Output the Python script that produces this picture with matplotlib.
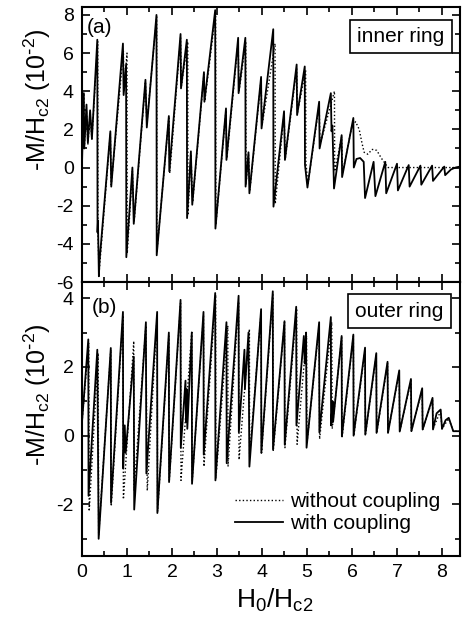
# Magnetization vs applied field for inner and outer rings

import matplotlib.pyplot as plt
from matplotlib.ticker import MultipleLocator

plt.rcParams['font.family'] = ['Liberation Sans', 'DejaVu Sans']
plt.rcParams['mathtext.default'] = 'regular'
plt.rcParams['axes.unicode_minus'] = False

# --- data ---

# (a) inner ring, with coupling (solid)
inner_with_x = [0.00, 0.04, 0.05, 0.10, 0.13, 0.18, 0.22, 0.34, 0.345, 0.355,
                0.375, 0.39, 0.63, 0.65, 0.91, 0.925, 0.98, 0.985, 1.12, 1.15,
                1.41, 1.44, 1.655, 1.66, 1.93, 1.94, 2.19, 2.20, 2.33, 2.335,
                2.42, 2.45, 2.71, 2.72, 2.96, 2.965, 3.20, 3.21, 3.47, 3.48,
                3.63, 3.635, 3.70, 3.72, 3.98, 3.99, 4.25, 4.255, 4.49, 4.51,
                4.77, 4.78, 4.95, 4.955, 5.01, 5.27, 5.28, 5.53, 5.545, 5.565,
                5.60, 5.77, 5.78, 6.03, 6.04, 6.10, 6.18, 6.26, 6.29, 6.48,
                6.52, 6.74, 6.76, 7.00, 7.02, 7.26, 7.28, 7.52, 7.54, 7.78,
                7.80, 8.05, 8.07, 8.20, 8.30, 8.40]
inner_with_y = [0.2, 3.9, 1.0, 3.3, 1.3, 3.0, 1.5, 6.7, -3.4, -2.8,
                -5.7, -4.9, 1.9, -1.0, 6.5, 3.8, 5.4, -4.7, 0.0, -2.95,
                4.6, 2.1, 8.0, -4.6, 2.7, -0.2, 7.0, 4.15, 6.7, -2.65,
                0.85, -1.95, 5.0, 3.45, 8.25, -3.2, 3.1, 0.4, 6.8, 3.9,
                6.8, -1.0, 0.8, -1.35, 4.75, 2.05, 7.25, -2.05, 2.95, 0.4,
                5.4, 2.75, 5.3, 0.15, -1.05, 3.45, 1.0, 3.9, 1.9, 2.2,
                -1.1, 1.7, -0.5, 2.6, 0.0, 0.45, 0.5, 0.3, -1.6, 0.3,
                -1.5, 0.3, -1.35, 0.2, -1.2, 0.13, -1.0, 0.1, -0.9, 0.1,
                -0.7, 0.05, -0.4, -0.1, 0.0, 0.05]

# (a) inner ring, without coupling (dotted)
inner_without_x = [0.00, 0.04, 0.05, 0.10, 0.13, 0.18, 0.22, 0.35, 0.355, 0.38,
                   0.63, 0.65, 0.92, 0.93, 1.00, 1.005, 1.12, 1.16, 1.41, 1.44,
                   1.66, 1.665, 1.93, 1.95, 2.19, 2.21, 2.35, 2.355, 2.42, 2.46,
                   2.71, 2.73, 2.97, 2.975, 3.20, 3.22, 3.47, 3.49, 3.64, 3.645,
                   3.70, 3.73, 3.98, 4.00, 4.29, 4.295, 4.49, 4.52, 4.77, 4.79,
                   4.97, 4.975, 5.02, 5.27, 5.29, 5.61, 5.615, 5.77, 5.79, 6.00,
                   6.08, 6.16, 6.22, 6.27, 6.35, 6.45, 6.55, 6.65, 6.80, 8.40]
inner_without_y = [0.2, 3.9, 1.0, 3.0, 1.2, 2.8, 1.5, 6.6, -3.5, -5.5,
                   1.8, -0.9, 6.1, 4.0, 6.0, -4.5, -0.2, -2.8, 4.5, 2.3,
                   7.9, -4.4, 2.6, -0.3, 6.8, 4.3, 6.6, -2.5, 0.7, -1.8,
                   4.9, 3.5, 8.1, -3.0, 3.0, 0.5, 6.6, 4.0, 6.6, -0.9,
                   0.7, -1.2, 4.6, 2.2, 6.5, -1.9, 2.8, 0.5, 5.2, 2.9,
                   5.1, 0.3, -0.9, 3.3, 1.2, 4.0, -0.2, 1.6, -0.3, 2.2,
                   2.4, 2.0, 1.3, 0.8, 0.7, 0.95, 0.9, 0.5, 0.0, 0.0]

# (b) outer ring, with coupling (solid)
outer_with_x = [0.00, 0.14, 0.145, 0.34, 0.37, 0.64, 0.645, 0.91, 0.915, 0.95,
                0.97, 1.15, 1.16, 1.42, 1.43, 1.67, 1.675, 1.93, 1.935, 2.19,
                2.195, 2.30, 2.31, 2.33, 2.34, 2.44, 2.445, 2.70, 2.705, 2.96,
                2.965, 3.21, 3.215, 3.48, 3.485, 3.61, 3.62, 3.70, 3.72, 3.98,
                3.985, 4.24, 4.245, 4.50, 4.505, 4.76, 4.765, 4.93, 4.95, 4.98,
                4.99, 5.27, 5.275, 5.53, 5.535, 5.57, 5.58, 5.77, 5.775, 6.03,
                6.035, 6.29, 6.295, 6.54, 6.545, 6.79, 6.80, 7.05, 7.06, 7.31,
                7.32, 7.56, 7.57, 7.79, 7.80, 7.88, 7.97, 8.00, 8.08, 8.15,
                8.25, 8.40]
outer_with_y = [0.4, 2.8, -1.75, 2.5, -3.0, 2.55, -1.95, 3.6, -0.95, 0.3,
                -0.5, 2.3, -2.15, 3.3, -1.1, 3.6, -2.25, 3.0, -1.35, 3.95,
                -0.35, 1.6, 0.4, 1.35, 0.2, 3.0, -1.4, 3.6, -0.55, 4.15,
                -1.3, 3.3, -0.8, 4.07, 0.1, 2.5, 1.35, 3.0, -0.9, 3.68,
                -0.5, 4.2, -0.4, 3.33, -0.26, 3.75, 0.3, 2.9, 2.1, 3.0,
                -0.35, 3.3, 0.1, 3.45, 0.3, 1.0, 0.4, 2.9, -0.02, 2.94,
                0.0, 2.56, 0.03, 2.4, 0.08, 2.15, 0.08, 1.9, 0.12, 1.65,
                0.13, 1.38, 0.18, 1.1, 0.18, 0.65, 0.76, 0.2, 0.45, 0.52,
                0.13, 0.13]

# (b) outer ring, without coupling (dotted)
outer_without_x = [0.00, 0.15, 0.16, 0.36, 0.37, 0.64, 0.65, 0.91, 0.92, 1.15,
                   1.155, 1.42, 1.45, 1.67, 1.68, 1.93, 1.94, 2.19, 2.20, 2.44,
                   2.45, 2.70, 2.71, 2.97, 2.975, 3.24, 3.245, 3.48, 3.49, 3.72,
                   3.725, 3.98, 3.99, 4.24, 4.25, 4.50, 4.51, 4.77, 4.78, 4.99,
                   5.00, 5.27, 5.28, 5.55, 5.56, 5.77, 5.78, 6.03, 6.04, 6.29,
                   6.30, 6.54, 6.55, 6.79, 6.80, 7.05, 7.06, 7.31, 7.32, 7.56,
                   7.57, 7.79, 7.80, 7.97, 8.00, 8.15, 8.25, 8.40]
outer_without_y = [0.4, 2.7, -2.2, 2.4, -2.9, 2.5, -2.05, 3.5, -1.85, 2.75,
                   -1.6, 3.2, -1.6, 3.5, -2.2, 2.9, -1.3, 3.85, -1.3, 3.05,
                   -1.3, 3.5, -0.9, 4.1, -1.25, 3.2, -0.9, 3.9, -0.7, 3.1,
                   -0.6, 3.6, -0.5, 4.1, -0.45, 3.3, -0.35, 3.7, -0.25, 2.9,
                   -0.2, 3.2, -0.1, 3.3, 0.2, 2.85, -0.05, 2.9, 0.0, 2.5,
                   0.05, 2.35, 0.08, 2.1, 0.1, 1.85, 0.12, 1.6, 0.14, 1.35,
                   0.18, 1.05, 0.2, 0.72, 0.2, 0.5, 0.13, 0.13]

x_ticks = [0, 1, 2, 3, 4, 5, 6, 7, 8]
inner_ticks = [-6, -4, -2, 0, 2, 4, 6, 8]
outer_ticks = [-2, 0, 2, 4]

# --- figure ---
W, H = 464, 629
fig = plt.figure(figsize=(W / 100, H / 100), dpi=100)
ax1 = fig.add_axes([82 / W, 1 - 282 / H, 378 / W, 274.7 / H])
ax2 = fig.add_axes([82 / W, 1 - 556 / H, 378 / W, 274 / H])

dot_style = dict(color='black', lw=1.0, linestyle=(0, (1, 1.6)))
solid_style = dict(color='black', lw=1.3)

ax1.plot(inner_without_x, inner_without_y, **dot_style)
ax1.plot(inner_with_x, inner_with_y, **solid_style)

ax2.plot(outer_without_x, outer_without_y, label='without coupling', **dot_style)
ax2.plot(outer_with_x, outer_with_y, label='with coupling', **solid_style)

for ax in (ax1, ax2):
    ax.set_xlim(0, 8.4)
    ax.set_xticks(x_ticks)
    ax.xaxis.set_minor_locator(MultipleLocator(0.5))
    ax.yaxis.set_minor_locator(MultipleLocator(1))
    ax.tick_params(which='both', direction='in', top=True, right=True,
                   width=1.2, labelsize=14, pad=6)
    ax.tick_params(which='major', length=6)
    ax.tick_params(which='minor', length=3.5)
    for s in ax.spines.values():
        s.set_linewidth(1.5)

ax1.set_ylim(-6, 8.4)
ax1.set_yticks(inner_ticks)
ax1.tick_params(labelbottom=False)

ax2.set_ylim(-3.5, 4.47)
ax2.set_yticks(outer_ticks)

# labels
ylab = r'-M/H$_{c2}$ (10$^{\text{-}2}$)'
fig.text(37 / W, 1 - 100 / H, ylab, rotation=90, ha='center', va='center', fontsize=18)
fig.text(37 / W, 1 - 395 / H, ylab, rotation=90, ha='center', va='center', fontsize=18)
fig.text(275 / W, 1 - 600 / H, r'H$_0$/H$_{c2}$', ha='center', va='center', fontsize=19)

ax1.text(0.013, 0.926, '(a)', transform=ax1.transAxes, fontsize=15, va='center', ha='left')
ax2.text(0.026, 0.907, '(b)', transform=ax2.transAxes, fontsize=15, va='center', ha='left')

box = dict(boxstyle='square,pad=0.35', fc='white', ec='black', lw=1.2)
ax1.text(0.844, 0.894, 'inner ring', transform=ax1.transAxes, fontsize=15,
         ha='center', va='center', bbox=box)
ax2.text(0.839, 0.894, 'outer ring', transform=ax2.transAxes, fontsize=15,
         ha='center', va='center', bbox=box)

ax2.legend(frameon=False, fontsize=15, handlelength=2.3, handletextpad=0.35,
           labelspacing=0.15, loc='center left', bbox_to_anchor=(0.405, 0.159),
           borderpad=0, borderaxespad=0)

plt.savefig('out.png', dpi=100)
